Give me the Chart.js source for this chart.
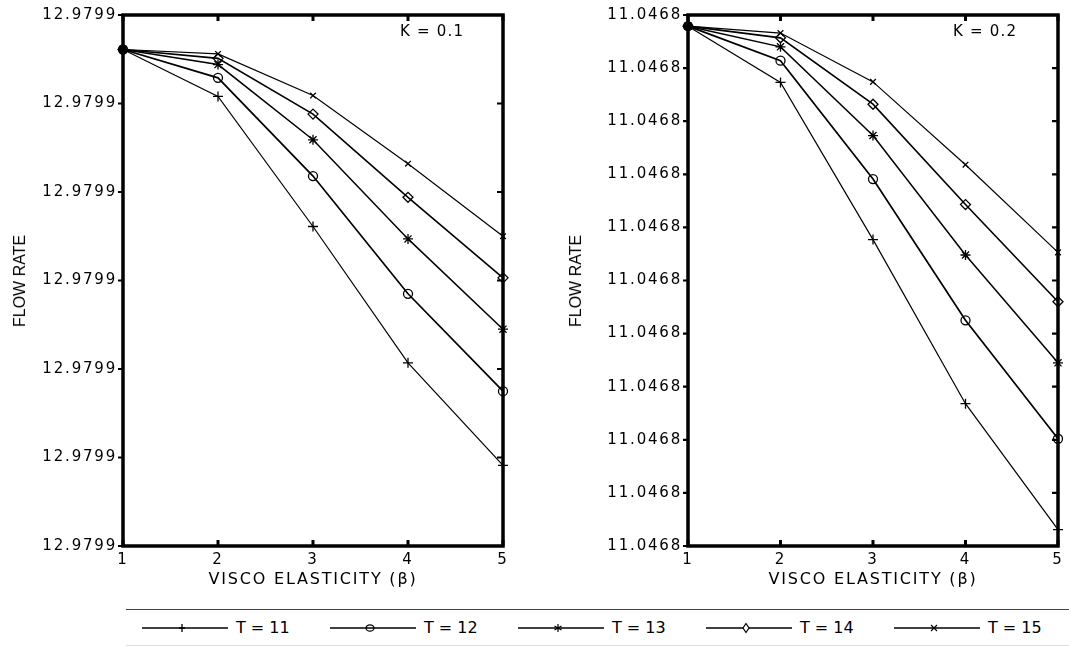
<!DOCTYPE html>
<html>
<head>
<meta charset="utf-8">
<script src="https://cdn.jsdelivr.net/npm/chart.js@4.4.1/dist/chart.umd.min.js"></script>
<style>
  html, body { margin: 0; padding: 0; background: #fff; }
  body { width: 1069px; height: 647px; position: relative; overflow: hidden; }
  .panel { position: absolute; top: 0; height: 600px; }
  #leftWrap { left: 0; width: 540px; }
  #rightWrap { left: 560px; width: 560px; }
  .ytitle {
    position: absolute; top: 281px;
    font-family: "Liberation Sans", Arial, sans-serif; font-size: 16px; color: #000;
    transform: translate(-50%, -50%) rotate(-90deg); white-space: nowrap;
  }
  #legend {
    position: absolute; left: 126px; top: 609px; width: 960px; height: 35px;
    border-top: 1.5px solid #444; border-bottom: 1px solid #ddd;
  }
  .item { position: absolute; top: 0; height: 35px; }
  .item svg { position: absolute; top: 11px; left: 0; }
  .item span {
    position: absolute; left: 94px; top: 8px; white-space: nowrap;
    font-family: "DejaVu Sans", sans-serif; font-size: 16px; color: #000;
  }
</style>
</head>
<body>
<div id="leftWrap" class="panel"><canvas id="left"></canvas></div>
<div id="rightWrap" class="panel"><canvas id="right"></canvas></div>
<div class="ytitle" style="left:20px">FLOW RATE</div>
<div class="ytitle" style="left:576px">FLOW RATE</div>
<div id="legend"></div>

<script>
// visco elasticity (beta)
const beta = [1, 2, 3, 4, 5];
const seriesNames = ['T = 11', 'T = 12', 'T = 13', 'T = 14', 'T = 15'];

// K = 0.1, values in tick steps above the lowest tick
const k1T11 = [5.61, 5.08, 3.61, 2.07, 0.91];
const k1T12 = [5.61, 5.29, 4.18, 2.85, 1.75];
const k1T13 = [5.61, 5.44, 4.59, 3.47, 2.45];
const k1T14 = [5.61, 5.51, 4.88, 3.94, 3.03];
const k1T15 = [5.61, 5.56, 5.09, 4.32, 3.50];
const leftTicks = ['12.9799', '12.9799', '12.9799', '12.9799', '12.9799', '12.9799', '12.9799'];

// K = 0.2
const k2T11 = [9.79, 8.73, 5.77, 2.68, 0.31];
const k2T12 = [9.79, 9.14, 6.91, 4.25, 2.02];
const k2T13 = [9.79, 9.40, 7.73, 5.48, 3.45];
const k2T14 = [9.79, 9.57, 8.32, 6.43, 4.60];
const k2T15 = [9.79, 9.66, 8.74, 7.18, 5.53];
const rightTicks = ['11.0468', '11.0468', '11.0468', '11.0468', '11.0468', '11.0468',
                    '11.0468', '11.0468', '11.0468', '11.0468', '11.0468'];

const pointStyles = ['cross', 'circle', 'star', 'rectRot', 'crossRot'];
const pointSizes = [5, 4.5, 5, 5, 4];
const lineWidths = [1.2, 1.7, 1.5, 1.6, 1.2];

const FONT = '"DejaVu Sans", sans-serif';

function makeSets(series) {
  return series.map((vals, i) => ({
    label: seriesNames[i],
    data: vals.map((v, j) => ({ x: beta[j], y: v })),
    borderColor: '#000',
    borderWidth: lineWidths[i],
    pointStyle: pointStyles[i],
    pointRadius: pointSizes[i],
    pointBorderWidth: 1.3,
    pointBorderColor: '#000',
    // all series share the first point, which piles up into a solid dot
    pointBackgroundColor: c => c.dataIndex === 0 ? '#000' : 'rgba(0,0,0,0)',
    tension: 0,
    clip: false
  }));
}

const spacing = {
  id: 'spacing',
  beforeLayout(chart) { chart.ctx.letterSpacing = '1.8px'; },
  beforeDraw(chart) { chart.ctx.letterSpacing = '1.8px'; }
};

const frame = {
  id: 'frame',
  beforeDatasetsDraw(chart, args, opts) {
    const { ctx, chartArea: a, scales: { x, y } } = chart;
    ctx.save();
    ctx.strokeStyle = '#000';
    ctx.lineWidth = 3.5;
    ctx.strokeRect(a.left, a.top, a.right - a.left, a.bottom - a.top);
    ctx.lineWidth = 3;
    x.ticks.forEach(t => {
      const px = x.getPixelForValue(t.value);
      ctx.beginPath();
      ctx.moveTo(px, a.bottom); ctx.lineTo(px, a.bottom - 6);
      ctx.moveTo(px, a.top); ctx.lineTo(px, a.top + 6);
      ctx.stroke();
    });
    ctx.lineWidth = 2.2;
    y.ticks.forEach(t => {
      const py = y.getPixelForValue(t.value);
      ctx.beginPath();
      ctx.moveTo(a.left - 5, py); ctx.lineTo(a.left, py);
      ctx.moveTo(a.right, py); ctx.lineTo(a.right - 6, py);
      ctx.stroke();
    });
    ctx.letterSpacing = '1.2px';
    ctx.font = '15px ' + FONT;
    ctx.fillStyle = '#000';
    ctx.textBaseline = 'middle';
    ctx.textAlign = 'left';
    ctx.fillText(opts.label, a.right - opts.labelRight, a.top + 17);
    ctx.restore();
  }
};

function makeChart(id, series, yMax, tickLabels, yWidth, padRight, kLabel, kRight) {
  return new Chart(document.getElementById(id), {
    type: 'line',
    data: { datasets: makeSets(series) },
    plugins: [spacing, frame],
    options: {
      responsive: true,
      maintainAspectRatio: false,
      animation: false,
      layout: { padding: { top: 14, right: padRight, bottom: 0, left: 0 } },
      plugins: {
        legend: { display: false },
        tooltip: { enabled: false },
        frame: { label: kLabel, labelRight: kRight }
      },
      scales: {
        x: {
          type: 'linear', min: 1, max: 5,
          grid: { display: false, drawTicks: false, tickLength: 0 },
          border: { display: false },
          ticks: { stepSize: 1, color: '#000', padding: 5, font: { family: FONT, size: 15 } },
          title: {
            display: true, text: 'VISCO ELASTICITY (β)', color: '#000',
            font: { family: FONT, size: 16 }, padding: { top: 0, bottom: 11 }
          },
          afterFit(s) { s.height = 54; }
        },
        y: {
          type: 'linear', min: 0, max: yMax,
          grid: { display: false, drawTicks: false, tickLength: 0 },
          border: { display: false },
          ticks: {
            stepSize: 1, color: '#000', padding: 6, font: { family: FONT, size: 15 },
            callback: (v, i) => tickLabels[i]
          },
          afterFit(s) { s.width = yWidth; }
        }
      }
    }
  });
}

makeChart('left', [k1T11, k1T12, k1T13, k1T14, k1T15], 6, leftTicks, 123, 37, 'K = 0.1', 103);
makeChart('right', [k2T11, k2T12, k2T13, k2T14, k2T15], 10, rightTicks, 128, 62, 'K = 0.2', 105);

// legend
const markerSvg = [
  '<path d="M40,3 V11 M37,7 H43" stroke="#000" stroke-width="1.3"/>',
  '<ellipse cx="40" cy="7" rx="4" ry="3.2" fill="none" stroke="#000" stroke-width="1.2"/>',
  '<path d="M40,3 V11 M36.5,5 L43.5,9 M36.5,9 L43.5,5" stroke="#000" stroke-width="1.2"/>',
  '<path d="M40,2.5 L43,7 L40,11.5 L37,7 Z" fill="#fff" stroke="#000" stroke-width="1.2"/>',
  '<path d="M37,4 L43,10 M37,10 L43,4" stroke="#000" stroke-width="1.1"/>'
];
const legendLeft = [16, 204, 392, 580, 768];
const legend = document.getElementById('legend');
seriesNames.forEach((name, i) => {
  const d = document.createElement('div');
  d.className = 'item';
  d.style.left = legendLeft[i] + 'px';
  d.innerHTML = '<svg width="86" height="14"><line x1="0" y1="7" x2="86" y2="7" stroke="#000" stroke-width="1.3"/>' +
    markerSvg[i] + '</svg><span>' + name + '</span>';
  legend.appendChild(d);
});
</script>
</body>
</html>
